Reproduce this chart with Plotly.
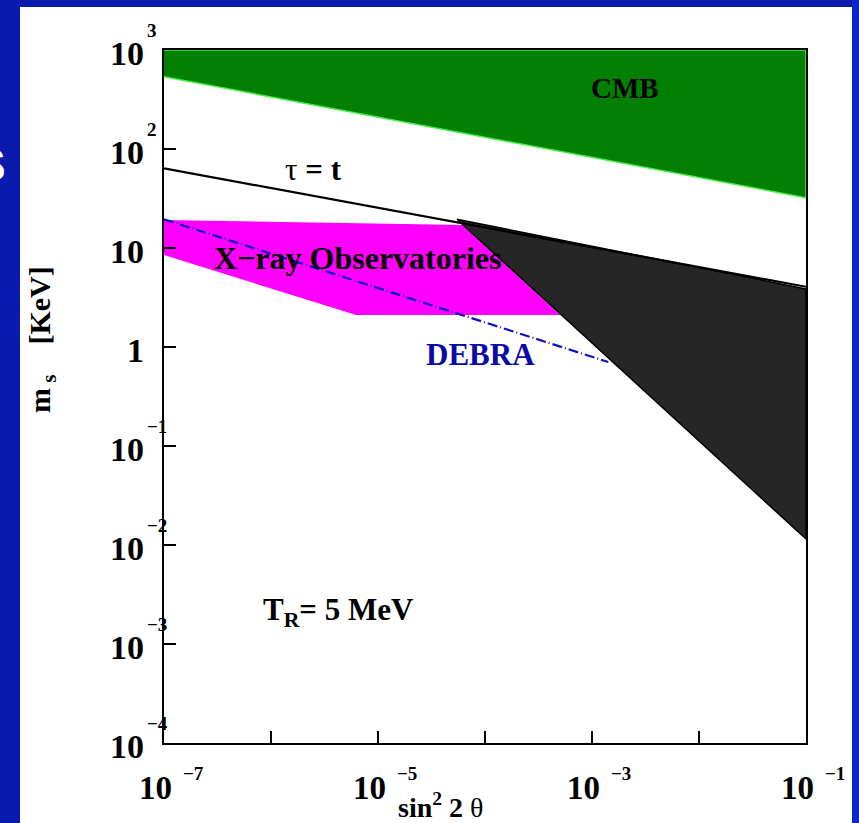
import math
import plotly.graph_objects as go

# ---------------- data ----------------
cmb_x = [1e-7, 1e-1, 1e-1, 1e-7]
cmb_y = [1000, 1000, 32.2, 537]

tau_x = [1e-7, 1e-1]
tau_y = [63.8, 4.06]

xray_x = [1e-7, 6.25e-5, 5.05e-4, 6.24e-6, 1e-7]
xray_y = [19.2, 17.1, 2.10, 2.10, 8.5]

excl_x = [5.46e-5, 1e-1, 1e-1]
excl_y = [19.5, 3.86, 0.0115]

debra_x = [1e-7, 1.42e-3]
debra_y = [19.5, 0.705]

xtick_vals = [1e-7, 1e-6, 1e-5, 1e-4, 1e-3, 1e-2, 1e-1]
xtick_base = ["10", "", "10", "", "10", "", "10"]
xtick_exp = ["−7", "", "−5", "", "−3", "", "−1"]

ytick_vals = [1e-4, 1e-3, 1e-2, 1e-1, 1, 10, 100, 1000]
ytick_base = ["10", "10", "10", "10", "1", "10", "10", "10"]
ytick_exp = ["−4", "−3", "−2", "−1", "", "", "2", "3"]

SERIF = "Liberation Serif"

fig = go.Figure()

# CMB excluded region
fig.add_trace(go.Scatter(x=cmb_x, y=cmb_y, mode="lines", fill="toself",
                         fillcolor="#007f00", line=dict(color="#44ee44", width=1.5),
                         hoverinfo="skip", showlegend=False))
# X-ray observatories region
fig.add_trace(go.Scatter(x=xray_x, y=xray_y, mode="lines", fill="toself",
                         fillcolor="#ff00ff", line=dict(color="#ff00ff", width=0),
                         hoverinfo="skip", showlegend=False))
# DEBRA line
fig.add_trace(go.Scatter(x=debra_x, y=debra_y, mode="lines",
                         line=dict(color="#1010c0", width=2.2, dash="10px,3px,1px,3px"),
                         hoverinfo="skip", showlegend=False))
# dark excluded region
fig.add_trace(go.Scatter(x=excl_x + [excl_x[0]], y=excl_y + [excl_y[0]], mode="lines",
                         fill="toself", fillcolor="#262626",
                         line=dict(color="#000000", width=1.5),
                         hoverinfo="skip", showlegend=False))
# tau = t line
fig.add_trace(go.Scatter(x=tau_x, y=tau_y, mode="lines",
                         line=dict(color="#000000", width=2.2),
                         hoverinfo="skip", showlegend=False))

# ---------------- geometry of the page ----------------
W, H = 859, 823
L, R, T, B = 164, 53, 50, 80
pw, ph = W - L - R, H - T - B


def px_x(px):
    return (px - L) / pw


def px_y(py):
    return (H - B - py) / ph


shapes = [
    # white slide panel
    dict(type="rect", xref="paper", yref="paper",
         x0=px_x(20), x1=px_x(852), y0=px_y(830), y1=px_y(7),
         fillcolor="white", line=dict(width=0), layer="below"),
    # brighter blue on the right edge
    dict(type="rect", xref="paper", yref="paper",
         x0=px_x(852), x1=px_x(870), y0=px_y(830), y1=px_y(-10),
         fillcolor="#0a26cc", line=dict(width=0), layer="below"),
]

annotations = []

# y tick labels: base and exponent
for v, b, e in zip(ytick_vals, ytick_base, ytick_exp):
    ly = math.log10(v)
    annotations.append(dict(x=px_x(146), xref="paper", y=ly, yref="y",
                            xanchor="right", yanchor="middle", yshift=-3,
                            text="<b>" + b + "</b>", showarrow=False,
                            font=dict(family=SERIF, size=34, color="black")))
    if e:
        annotations.append(dict(x=px_x(145), xref="paper", y=ly, yref="y",
                                xanchor="left", yanchor="middle", yshift=20,
                                text="<b>" + e + "</b>", showarrow=False,
                                font=dict(family=SERIF, size=19, color="black")))

# x tick labels: base and exponent
for v, b, e in zip(xtick_vals, xtick_base, xtick_exp):
    if not b:
        continue
    lx = math.log10(v)
    annotations.append(dict(x=lx, xref="x", y=px_y(788), yref="paper",
                            xanchor="center", yanchor="middle", xshift=-9,
                            text="<b>" + b + "</b>", showarrow=False,
                            font=dict(family=SERIF, size=33, color="black")))
    annotations.append(dict(x=lx, xref="x", y=px_y(773), yref="paper",
                            xanchor="left", yanchor="middle", xshift=17,
                            text="<b>" + e + "</b>", showarrow=False,
                            font=dict(family=SERIF, size=19, color="black")))

# axis titles
annotations.append(dict(x=px_x(440), xref="paper", y=px_y(805), yref="paper",
                        xanchor="center", yanchor="middle",
                        text="<b>sin</b><sup><b>2</b></sup><b> 2 </b>θ", showarrow=False,
                        font=dict(family=SERIF, size=28, color="black")))
annotations.append(dict(x=px_x(42), xref="paper", y=px_y(340), yref="paper",
                        xanchor="center", yanchor="middle", textangle=-90,
                        text="<b>m</b><sub><b> s</b></sub><b>    [KeV]</b>", showarrow=False,
                        font=dict(family=SERIF, size=30, color="black")))

# in-plot labels
annotations.append(dict(x=-2.69, y=2.616, xref="x", yref="y", text="<b>CMB</b>",
                        showarrow=False,
                        font=dict(family=SERIF, size=29, color="black")))
annotations.append(dict(x=-5.607, y=1.788, xref="x", yref="y", text="τ <b>= t</b>",
                        showarrow=False,
                        font=dict(family=SERIF, size=31, color="black")))
annotations.append(dict(x=-5.186, y=0.899, xref="x", yref="y",
                        text="<b>X−ray Observatories</b>", showarrow=False,
                        font=dict(family=SERIF, size=32, color="black")))
annotations.append(dict(x=-4.045, y=-0.071, xref="x", yref="y", text="<b>DEBRA</b>",
                        showarrow=False,
                        font=dict(family=SERIF, size=31, color="#0a0aa8")))
annotations.append(dict(x=-5.373, y=-2.677, xref="x", yref="y",
                        text="<b>T</b><sub><b>R</b></sub><b>= 5 MeV</b>", showarrow=False,
                        font=dict(family=SERIF, size=31, color="black")))

# white letter on the slide edge
annotations.append(dict(x=px_x(8), xref="paper", y=px_y(165), yref="paper",
                        xanchor="right", yanchor="middle", text="<b>S</b>",
                        showarrow=False,
                        font=dict(family="Liberation Sans", size=46, color="white")))

fig.update_layout(
    width=W, height=H,
    margin=dict(l=L, r=R, t=T, b=B),
    paper_bgcolor="#0a1aac",
    plot_bgcolor="white",
    shapes=shapes,
    annotations=annotations,
    showlegend=False,
    xaxis=dict(type="log", range=[-7, -1], showgrid=False, zeroline=False,
               showline=True, linecolor="black", linewidth=1.5, mirror=True,
               ticks="inside", ticklen=12, tickwidth=2, tickcolor="black",
               tickvals=xtick_vals, showticklabels=False),
    yaxis=dict(type="log", range=[-4, 3], showgrid=False, zeroline=False,
               showline=True, linecolor="black", linewidth=1.5, mirror=True,
               ticks="inside", ticklen=12, tickwidth=2, tickcolor="black",
               tickvals=ytick_vals, showticklabels=False),
)

fig.write_html(
    "out.html",
    config={"displayModeBar": False},
    post_script="document.body.style.margin='0';document.body.style.padding='0';"
                "document.body.style.overflow='hidden';",
)
